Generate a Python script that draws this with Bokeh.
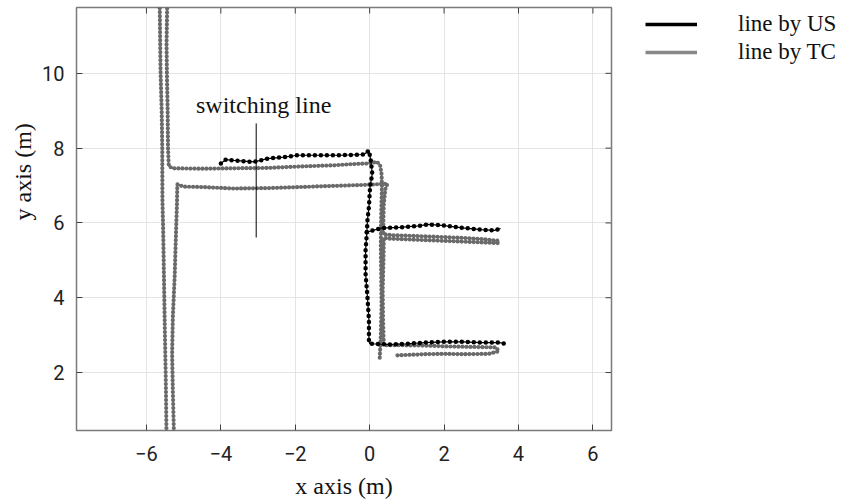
import math
from bokeh.plotting import figure
from bokeh.models import Range1d, Label, Legend, LegendItem, Title
from bokeh.embed import file_html
from bokeh.resources import INLINE

# ---------------- data ----------------
X_RANGE = (-7.88, 6.5)
Y_RANGE = (0.45, 11.76)
X_TICKS = [-6, -4, -2, 0, 2, 4, 6]
Y_TICKS = [2, 4, 6, 8, 10]

# TC trajectories (gray)
TC_A_X = [-5.44, -5.46, -5.45, -5.43, -5.42, -5.40, -5.30, -4.54, -3.66, -2.74, -1.85, -0.97,
          -0.51, -0.05, 0.20, 0.28, 0.32, 0.33, 0.31, 0.30, 0.31, 0.32, 0.30, 0.27]
TC_A_Y = [11.95, 10.8, 10.0, 9.0, 8.0, 7.52, 7.46, 7.45, 7.46, 7.47, 7.51, 7.54,
          7.57, 7.59, 7.63, 7.55, 7.30, 7.00, 6.20, 5.40, 4.60, 3.80, 3.00, 2.38]

TC_B_X = [-5.26, -5.29, -5.31, -5.29, -5.24, -5.21, -5.18, -5.17, -5.00, -4.54, -3.66, -2.74,
          -1.85, -0.97, -0.05, 0.30, 0.48, 0.42, 0.38, 0.36, 0.60, 1.0, 1.5, 2.0, 2.5, 3.0,
          3.47, 3.44, 3.0, 2.5, 2.0, 1.5, 1.0, 0.5, 0.38, 0.37, 0.35, 0.36, 0.38, 0.8, 1.5,
          2.0, 2.5, 3.0, 3.40, 3.47, 3.2, 2.5, 2.0, 1.5, 1.0, 0.74]
TC_B_Y = [0.3, 1.5, 2.5, 3.5, 4.6, 5.6, 6.5, 7.03, 6.97, 6.96, 6.92, 6.93,
          6.96, 6.99, 7.02, 7.04, 7.05, 6.90, 6.50, 5.70, 5.67, 5.66, 5.64, 5.62, 5.60, 5.57,
          5.52, 5.46, 5.48, 5.50, 5.52, 5.54, 5.56, 5.58, 5.60, 5.00, 4.20, 3.40, 2.73, 2.73, 2.72,
          2.70, 2.69, 2.68, 2.67, 2.57, 2.50, 2.49, 2.50, 2.49, 2.47, 2.46]

TC_C_X = [-5.46, -5.48, -5.51, -5.53, -5.55, -5.57, -5.575, -5.59, -5.62, -5.645]
TC_C_Y = [0.3, 1.8, 3.4, 4.6, 5.8, 6.6, 8.0, 9.0, 10.0, 11.95]

# US trajectories (black)
US_A_X = [-4.00, -3.87, -3.65, -3.11, -2.75, -2.30, -1.94, -1.41, -0.78, -0.15, -0.02, 0.03,
          0.07, 0.01, -0.02, -0.06, -0.08, -0.11, -0.11, -0.06, -0.02, -0.02, 0.00, 0.5, 1.0,
          1.5, 2.0, 2.5, 3.0, 3.5, 3.62]
US_A_Y = [7.59, 7.69, 7.67, 7.63, 7.72, 7.76, 7.81, 7.81, 7.81, 7.83, 7.94, 7.67,
          7.32, 6.96, 6.43, 6.07, 5.67, 5.27, 4.64, 4.02, 3.40, 2.86, 2.77, 2.75, 2.77,
          2.80, 2.82, 2.82, 2.80, 2.80, 2.77]

US_B_X = [-0.08, 0.3, 0.8, 1.3, 1.6, 2.0, 2.5, 3.0, 3.35, 3.52]
US_B_Y = [5.75, 5.86, 5.88, 5.92, 5.96, 5.93, 5.87, 5.82, 5.80, 5.85]

SWITCH_X = -3.05
SWITCH_Y = (5.61, 8.66)

GRAY = "#6a6a6a"
GRAY_LEG = "#888888"
SERIF = "Liberation Serif"
SANS = "Roboto"
NAN = float("nan")

# ---------------- figure ----------------
p = figure(frame_width=535, frame_height=423,
           x_range=Range1d(*X_RANGE), y_range=Range1d(*Y_RANGE),
           min_border_left=76, min_border_right=240, min_border_top=7, min_border_bottom=72,
           output_backend="svg", toolbar_location=None)
p.background_fill_color = "white"
p.border_fill_color = "white"
p.outline_line_color = "#7a7a7a"
p.outline_line_width = 1.5

for ax, ticks in ((p.xaxis, X_TICKS), (p.yaxis, Y_TICKS)):
    ax.ticker = ticks
    ax.major_label_overrides = {t: ("\u2212%d" % -t if t < 0 else str(t)) for t in ticks}
    ax.axis_line_color = None
    ax.major_tick_in = 6
    ax.major_tick_out = 0
    ax.minor_tick_line_color = None
    ax.major_tick_line_color = "#404040"
    ax.major_label_text_font = SANS
    ax.major_label_text_font_size = "20px"
    ax.major_label_text_color = "#222222"
p.xaxis.major_label_standoff = 15
p.yaxis.major_label_standoff = 12

p.xaxis.axis_label = "x axis (m)"
p.xaxis.axis_label_text_font = SERIF
p.xaxis.axis_label_text_font_style = "normal"
p.xaxis.axis_label_text_font_size = "24px"
p.xaxis.axis_label_text_color = "#111111"
p.xaxis.axis_label_standoff = 9

p.add_layout(Title(text="y axis (m)", align="left", offset=210, text_font=SERIF,
                   text_font_style="normal", text_font_size="24px",
                   text_color="#111111", standoff=7), "left")

p.xgrid.ticker = X_TICKS
p.ygrid.ticker = Y_TICKS
p.grid.grid_line_color = "#e4e4e4"
p.grid.grid_line_width = 1

# top / right inner ticks
ty = 6 / 37.4
tx = 6 / 37.2
p.segment(x0=X_TICKS, y0=[Y_RANGE[1]] * len(X_TICKS), x1=X_TICKS,
          y1=[Y_RANGE[1] - ty] * len(X_TICKS), line_color="#404040", line_width=1)
p.segment(x0=[X_RANGE[1]] * len(Y_TICKS), y0=Y_TICKS, x1=[X_RANGE[1] - tx] * len(Y_TICKS),
          y1=Y_TICKS, line_color="#404040", line_width=1)

# trajectories
for xs, ys in ((TC_A_X, TC_A_Y), (TC_B_X, TC_B_Y), (TC_C_X, TC_C_Y)):
    p.line(xs, ys, line_color=GRAY, line_width=1.3)
    p.line(xs, ys, line_color=GRAY, line_width=4.2, line_dash="0 4", line_cap="round")
for xs, ys in ((US_A_X, US_A_Y), (US_B_X, US_B_Y)):
    p.line(xs, ys, line_color="black", line_width=1.2)
    p.line(xs, ys, line_color="black", line_width=4.5, line_dash="0 6", line_cap="round")

# switching line
p.line([SWITCH_X, SWITCH_X], list(SWITCH_Y), line_color="black", line_width=1)
p.add_layout(Label(x=-2.85, y=9.14, text="switching line", text_align="center",
                   text_baseline="middle", text_font=SERIF, text_font_size="24px",
                   text_color="#111111"))

# legend (proxy renderers with no visible data)
r_us = p.line(x=[NAN, NAN], y=[NAN, NAN], line_color="black", line_width=3.5)
r_tc = p.line(x=[NAN, NAN], y=[NAN, NAN], line_color=GRAY_LEG, line_width=3.5)
legend = Legend(items=[LegendItem(label="line by US", renderers=[r_us]),
                       LegendItem(label="line by TC", renderers=[r_tc])],
                location=(31, 361), margin=17, glyph_width=52, glyph_height=28,
                label_height=28, label_standoff=41, spacing=0, padding=3,
                border_line_alpha=0, background_fill_alpha=0, label_text_font=SERIF,
                label_text_font_size="23px", label_text_color="#111111")
p.add_layout(legend, "right")

open("out.html", "w").write(file_html(p, INLINE))
